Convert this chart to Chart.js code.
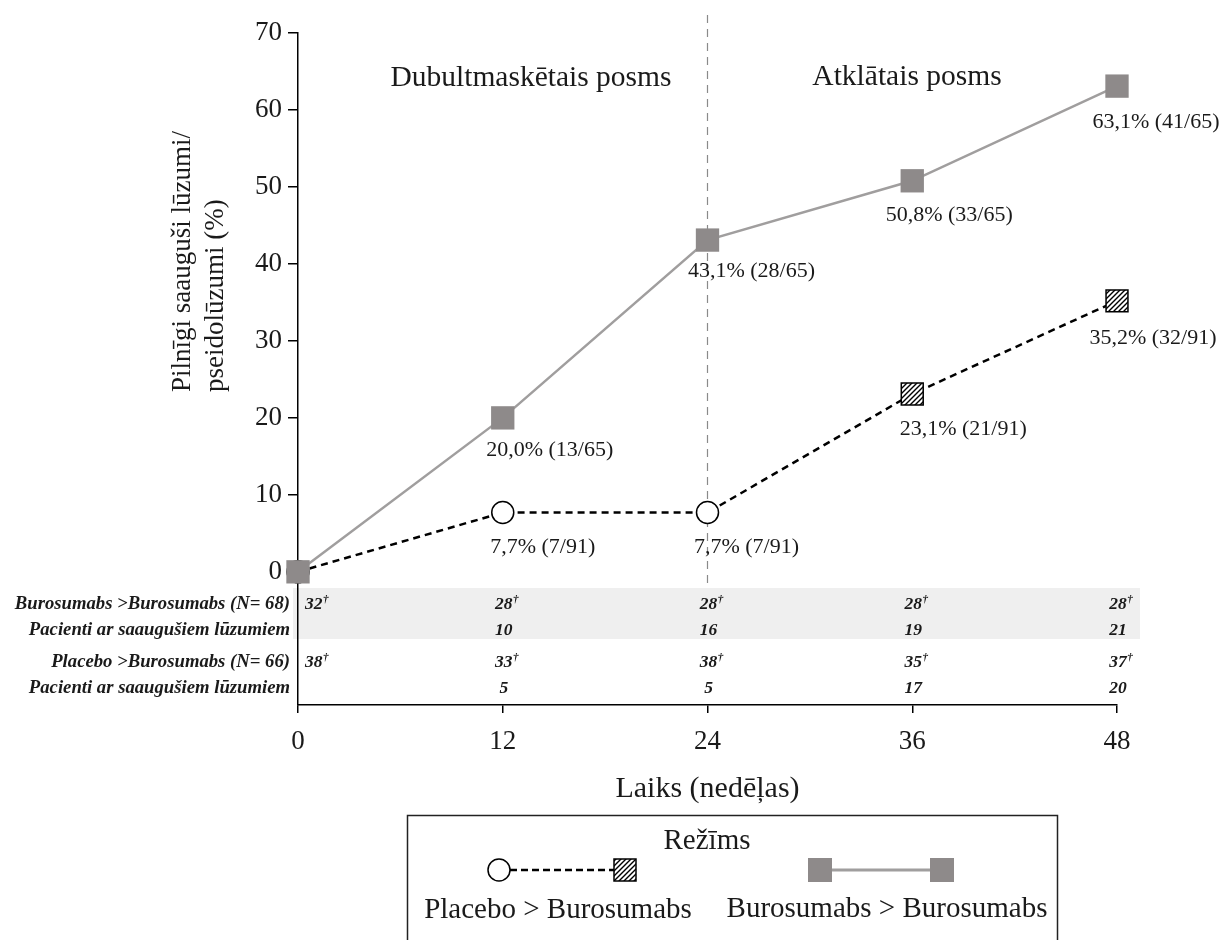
<!DOCTYPE html>
<html><head><meta charset="utf-8">
<script src="https://cdn.jsdelivr.net/npm/chart.js@4/dist/chart.umd.min.js"></script>
<style>html,body{margin:0;padding:0;background:#fff;overflow:hidden}#wrap{width:1231px;height:940px;position:relative}</style>
</head><body><div id="wrap"><canvas id="c" width="1231" height="940"></canvas></div>
<script>
// ---- data ----
const weeks = [0, 12, 24, 36, 48];
const buroPct = [0, 20.0, 43.1, 50.8, 63.1];
const placPct = [0, 7.7, 7.7, 23.1, 35.2];
const buroNum = [null, 13, 28, 33, 41];
const buroDen = 65;
const placNum = [null, 7, 7, 21, 32];
const placDen = 91;
const yTicks = [0, 10, 20, 30, 40, 50, 60, 70];
const xTicks = [0, 12, 24, 36, 48];
const tableRowLabels = ['Burosumabs >Burosumabs (N= 68)', 'Pacienti ar saaugušiem lūzumiem', 'Placebo >Burosumabs (N= 66)', 'Pacienti ar saaugušiem lūzumiem'];
const buroAtRisk = [32, 28, 28, 28, 28];
const buroFract = [null, 10, 16, 19, 21];
const placAtRisk = [38, 33, 38, 35, 37];
const placFract = [null, 5, 5, 17, 20];
const phaseLabels = ['Dubultmaskētais posms', 'Atklātais posms'];
const phaseBoundary = 24;
const seriesNames = ['Placebo > Burosumabs', 'Burosumabs > Burosumabs'];
const legendTitle = 'Režīms';
const yTitle = ['Pilnīgi saauguši lūzumi/', 'pseidolūzumi (%)'];
const xTitle = 'Laiks (nedēļas)';

// ---- styles ----
const SERIF = "'Liberation Serif', 'Times New Roman', serif";
const GRAY_LINE = '#a09e9e';
const GRAY_FILL = '#8e8a8a';
const TXT = '#1a1a1a';

const canvas = document.getElementById('c');
const ctx0 = canvas.getContext('2d');
function makeHatch() {
  const s = 5;
  const c = document.createElement('canvas'); c.width = s; c.height = s;
  const g = c.getContext('2d');
  g.fillStyle = '#fff'; g.fillRect(0, 0, s, s);
  g.strokeStyle = '#000'; g.lineWidth = 1.4;
  g.beginPath();
  g.moveTo(-1, s + 1); g.lineTo(s + 1, -1);
  g.moveTo(-1, 1); g.lineTo(1, -1);
  g.moveTo(s - 1, s + 1); g.lineTo(s + 1, s - 1);
  g.stroke();
  return ctx0.createPattern(c, 'repeat');
}
const hatch = makeHatch();

const fmt = v => v.toFixed(1).replace('.', ',');

const overlay = {
  id: 'overlay',
  beforeDraw(chart) {
    const ctx = chart.ctx;
    ctx.save();
    ctx.fillStyle = '#fff';
    ctx.fillRect(0, 0, chart.width, chart.height);
    ctx.fillStyle = '#efefef';
    ctx.fillRect(293, 588, 847, 51);
    ctx.restore();
  },
  beforeDatasetsDraw(chart) {
    const ctx = chart.ctx, xs = chart.scales.x;
    const bx = xs.getPixelForValue(phaseBoundary);
    ctx.save();
    ctx.strokeStyle = '#8a8a8a'; ctx.lineWidth = 1.2; ctx.setLineDash([8, 6]);
    ctx.beginPath(); ctx.moveTo(bx, 15); ctx.lineTo(bx, 588); ctx.stroke();
    ctx.setLineDash([]);
    ctx.fillStyle = TXT; ctx.font = '29.5px ' + SERIF;
    ctx.textAlign = 'center'; ctx.textBaseline = 'middle';
    ctx.fillText(phaseLabels[0], 531, 78);
    ctx.fillText(phaseLabels[1], 907, 77);
    ctx.restore();
  },
  afterDatasetsDraw(chart) {
    const ctx = chart.ctx, xs = chart.scales.x, ys = chart.scales.y;
    ctx.save();
    ctx.fillStyle = TXT; ctx.font = '22px ' + SERIF;
    ctx.textAlign = 'center'; ctx.textBaseline = 'middle';
    const bdx = [0, 47, 44, 37, 39];
    const pdx = [0, 40, 39, 51, 36];
    const bdy = [0, 32, 31, 34, 36];
    const pdy = [0, 35, 35, 35, 37];
    for (let i = 1; i < weeks.length; i++) {
      const x = xs.getPixelForValue(weeks[i]);
      ctx.fillText(fmt(buroPct[i]) + '% (' + buroNum[i] + '/' + buroDen + ')', x + bdx[i], ys.getPixelForValue(buroPct[i]) + bdy[i]);
      ctx.fillText(fmt(placPct[i]) + '% (' + placNum[i] + '/' + placDen + ')', x + pdx[i], ys.getPixelForValue(placPct[i]) + pdy[i]);
    }
    ctx.restore();
  },
  afterDraw(chart) {
    const ctx = chart.ctx, xs = chart.scales.x;
    ctx.save();
    // y title
    ctx.fillStyle = TXT; ctx.font = '27px ' + SERIF;
    ctx.textAlign = 'left'; ctx.textBaseline = 'middle';
    [183, 216].forEach((x, i) => {
      ctx.save(); ctx.translate(x, 392); ctx.rotate(-Math.PI / 2);
      ctx.fillText(yTitle[i], 0, 0); ctx.restore();
    });
    // table
    ctx.font = 'italic bold 18.7px ' + SERIF;
    ctx.textAlign = 'right';
    const rowsY = [604, 630, 662, 688];
    tableRowLabels.forEach((t, i) => ctx.fillText(t, 290, rowsY[i]));
    const rows = [[buroAtRisk, true], [buroFract, false], [placAtRisk, true], [placFract, false]];
    rows.forEach(([arr, dag], r) => {
      arr.forEach((v, i) => {
        if (v === null) return;
        const px = xs.getPixelForValue(weeks[i]);
        const s = String(v);
        ctx.font = 'italic bold 17.5px ' + SERIF;
        const w = ctx.measureText(s).width;
        const left = i === 0 ? px + 7 : px - w / 2 + 1;
        ctx.textAlign = 'left';
        ctx.fillText(s, left, rowsY[r]);
        if (dag) {
          ctx.font = 'italic bold 11px ' + SERIF;
          ctx.fillText('\u2020', left + w + 0.5, rowsY[r] - 5);
        }
      });
    });
    // legend
    ctx.strokeStyle = '#222'; ctx.lineWidth = 1.5;
    ctx.strokeRect(407.5, 815.5, 650, 200);
    ctx.fillStyle = TXT; ctx.font = '29px ' + SERIF;
    ctx.textAlign = 'center'; ctx.textBaseline = 'middle';
    ctx.fillText(legendTitle, 707, 841);
    const ly = 870;
    ctx.strokeStyle = '#000'; ctx.lineWidth = 2.5; ctx.setLineDash([7, 4]);
    ctx.beginPath(); ctx.moveTo(510, ly); ctx.lineTo(614, ly); ctx.stroke();
    ctx.setLineDash([]);
    ctx.lineWidth = 1.5; ctx.fillStyle = '#fff';
    ctx.beginPath(); ctx.arc(499, ly, 11, 0, Math.PI * 2); ctx.fill(); ctx.stroke();
    ctx.fillStyle = hatch; ctx.fillRect(614, ly - 11, 22, 22); ctx.strokeRect(614, ly - 11, 22, 22);
    ctx.strokeStyle = GRAY_LINE; ctx.lineWidth = 3;
    ctx.beginPath(); ctx.moveTo(820, ly); ctx.lineTo(942, ly); ctx.stroke();
    ctx.fillStyle = GRAY_FILL;
    ctx.fillRect(808, ly - 12, 24, 24); ctx.fillRect(930, ly - 12, 24, 24);
    ctx.fillStyle = TXT; ctx.font = '29px ' + SERIF;
    ctx.fillText(seriesNames[0], 558, 910);
    ctx.fillText(seriesNames[1], 887, 909);
    ctx.restore();
  }
};

new Chart(canvas, {
  type: 'line',
  data: {
    datasets: [
      {
        label: seriesNames[1],
        data: weeks.map((w, i) => ({ x: w, y: buroPct[i] })),
        borderColor: GRAY_LINE, borderWidth: 2.5, tension: 0,
        pointStyle: 'rect', pointRadius: 16.5, pointBackgroundColor: GRAY_FILL,
        pointBorderColor: GRAY_FILL, pointBorderWidth: 0, clip: false
      },
      {
        label: seriesNames[0],
        data: weeks.map((w, i) => ({ x: w, y: placPct[i] })),
        borderColor: '#000', borderWidth: 2.5, borderDash: [7, 5], tension: 0,
        pointStyle: ['circle', 'circle', 'circle', 'rect', 'rect'],
        pointRadius: [11, 11, 11, 15.5, 15.5],
        pointBackgroundColor: ['#fff', '#fff', '#fff', hatch, hatch],
        pointBorderColor: '#000', pointBorderWidth: 1.5, clip: false
      }
    ]
  },
  options: {
    responsive: false, animation: false,
    layout: { padding: { top: 33, right: 114, left: 0, bottom: 0 } },
    plugins: { legend: { display: false }, tooltip: { enabled: false } },
    events: [],
    scales: {
      x: {
        type: 'linear', min: 0, max: 48,
        afterBuildTicks: s => { s.ticks = xTicks.map(v => ({ value: v })); },
        afterFit: s => { s.height = 235; },
        grid: { drawOnChartArea: false, drawTicks: true, tickLength: 8, color: '#000', lineWidth: 1.5 },
        border: { display: true, color: '#000', width: 1.5 },
        ticks: { font: { family: SERIF, size: 27 }, color: TXT, padding: 13, maxRotation: 0 },
        title: { display: true, text: xTitle, color: TXT, font: { family: SERIF, size: 30 }, padding: { top: 0, bottom: 133 } }
      },
      y: {
        type: 'linear', min: -17.3, max: 70,
        afterBuildTicks: s => { s.ticks = yTicks.map(v => ({ value: v })); },
        afterFit: s => { s.width = 298; },
        grid: { drawOnChartArea: false, drawTicks: true, tickLength: 10, color: '#000', lineWidth: 1.5 },
        border: { display: true, color: '#000', width: 1.5 },
        ticks: { font: { family: SERIF, size: 27 }, color: TXT, padding: 6 }
      }
    }
  },
  plugins: [overlay]
});
</script>
</body></html>
